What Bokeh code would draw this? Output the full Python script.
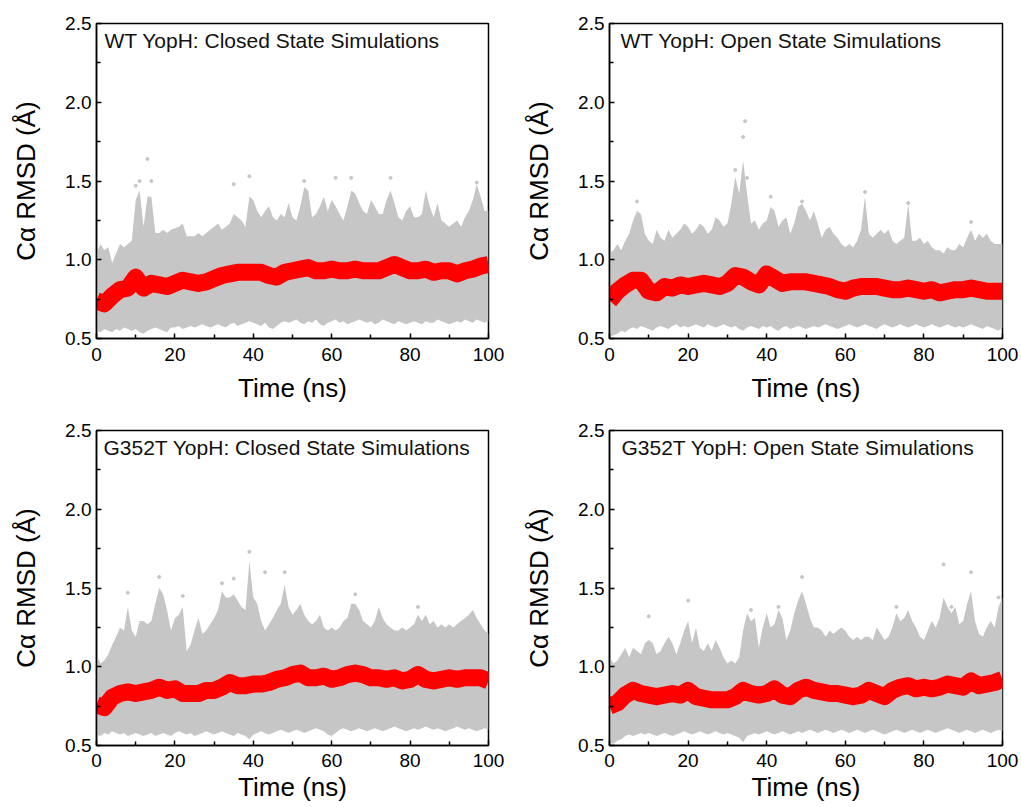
from bokeh.plotting import figure
from bokeh.layouts import column, row
from bokeh.models import FixedTicker, PrintfTickFormatter, Label, Range1d
from bokeh.embed import file_html
from bokeh.resources import INLINE

# ---------------- data ----------------
time_1ns = list(range(0, 101))
time_2ns = list(range(0, 101, 2))

panel_titles = [
    "WT YopH: Closed State Simulations",
    "WT YopH: Open State Simulations",
    "G352T YopH: Closed State Simulations",
    "G352T YopH: Open State Simulations",
]

x_ticks = [0, 20, 40, 60, 80, 100]
x_minor = [10, 30, 50, 70, 90]
y_ticks = [0.5, 1.0, 1.5, 2.0, 2.5]
y_minor = [0.75, 1.25, 1.75, 2.25]

# upper edge of the grey cloud of raw RMSD points (1 ns steps)
wt_closed_upper = [1.04,1.10,1.06,1.08,0.98,1.04,1.10,1.08,1.10,1.12,
    1.38,1.44,1.21,1.40,1.40,1.17,1.17,1.19,1.17,1.19,
    1.20,1.21,1.23,1.15,1.15,1.15,1.17,1.15,1.17,1.19,
    1.21,1.23,1.19,1.21,1.23,1.29,1.27,1.25,1.21,1.40,
    1.38,1.31,1.27,1.31,1.34,1.27,1.25,1.29,1.27,1.36,
    1.27,1.25,1.34,1.46,1.44,1.27,1.29,1.34,1.40,1.31,
    1.38,1.34,1.29,1.25,1.34,1.44,1.42,1.36,1.31,1.29,
    1.38,1.34,1.29,1.29,1.38,1.44,1.36,1.27,1.25,1.31,
    1.34,1.27,1.27,1.29,1.44,1.34,1.27,1.36,1.25,1.23,
    1.21,1.23,1.25,1.21,1.27,1.31,1.38,1.48,1.40,1.31,1.31]
wt_open_upper = [1.04,1.06,1.10,1.06,1.12,1.165,1.25,1.31,1.29,1.165,
    1.12,1.10,1.19,1.14,1.12,1.19,1.14,1.165,1.19,1.23,
    1.21,1.165,1.19,1.23,1.21,1.165,1.19,1.27,1.25,1.21,
    1.23,1.355,1.525,1.42,1.63,1.42,1.23,1.25,1.19,1.23,
    1.25,1.335,1.31,1.21,1.25,1.27,1.165,1.23,1.335,1.355,
    1.31,1.25,1.31,1.23,1.14,1.19,1.21,1.165,1.14,1.10,
    1.08,1.10,1.08,1.12,1.19,1.40,1.165,1.14,1.165,1.19,
    1.165,1.19,1.12,1.10,1.12,1.14,1.355,1.12,1.12,1.14,
    1.10,1.12,1.08,1.06,1.06,1.04,1.08,1.06,1.06,1.10,
    1.08,1.14,1.19,1.12,1.165,1.14,1.165,1.12,1.10,1.10,1.10]
mut_closed_upper = [1.08,1.02,1.04,1.08,1.14,1.19,1.25,1.23,1.38,1.23,
    1.19,1.29,1.29,1.27,1.29,1.40,1.50,1.46,1.36,1.23,
    1.31,1.33,1.38,1.10,1.14,1.23,1.31,1.21,1.23,1.27,
    1.31,1.36,1.48,1.44,1.44,1.46,1.42,1.38,1.36,1.67,
    1.44,1.40,1.29,1.23,1.27,1.31,1.36,1.40,1.52,1.38,
    1.33,1.36,1.40,1.33,1.29,1.27,1.29,1.33,1.25,1.23,
    1.25,1.23,1.25,1.29,1.31,1.40,1.40,1.36,1.29,1.27,
    1.25,1.29,1.38,1.31,1.27,1.25,1.23,1.23,1.25,1.23,
    1.25,1.27,1.33,1.29,1.33,1.27,1.29,1.25,1.27,1.25,
    1.27,1.25,1.27,1.29,1.31,1.33,1.36,1.31,1.27,1.23,1.21]
mut_open_upper = [1.06,1.02,1.04,1.08,1.12,1.06,1.12,1.10,1.08,1.15,
    1.17,1.15,1.08,1.10,1.15,1.19,1.15,1.08,1.15,1.23,
    1.29,1.15,1.25,1.12,1.10,1.15,1.10,1.17,1.12,1.06,
    1.02,1.04,1.02,1.06,1.23,1.34,1.29,1.31,1.12,1.25,
    1.34,1.25,1.27,1.36,1.31,1.17,1.23,1.34,1.42,1.48,
    1.40,1.31,1.25,1.25,1.23,1.19,1.23,1.21,1.23,1.25,
    1.23,1.19,1.17,1.19,1.17,1.19,1.19,1.17,1.25,1.21,
    1.17,1.19,1.25,1.34,1.29,1.31,1.36,1.29,1.25,1.19,
    1.17,1.23,1.29,1.25,1.31,1.44,1.38,1.34,1.38,1.27,
    1.29,1.40,1.48,1.29,1.21,1.19,1.25,1.29,1.25,1.38,1.44]

# lower edge of the grey cloud (1 ns steps)
wt_closed_lower = [0.55,0.54,0.56,0.55,0.54,0.56,0.55,0.57,0.56,0.55,
    0.56,0.54,0.53,0.55,0.56,0.57,0.56,0.55,0.54,0.57,
    0.57,0.58,0.56,0.57,0.58,0.57,0.58,0.59,0.58,0.57,
    0.58,0.59,0.58,0.57,0.59,0.60,0.58,0.59,0.60,0.61,
    0.60,0.59,0.58,0.60,0.57,0.56,0.58,0.60,0.61,0.60,
    0.61,0.62,0.60,0.59,0.61,0.60,0.62,0.59,0.58,0.60,
    0.61,0.62,0.60,0.61,0.59,0.60,0.61,0.62,0.61,0.60,
    0.61,0.59,0.60,0.62,0.61,0.60,0.59,0.61,0.60,0.59,
    0.60,0.61,0.60,0.59,0.61,0.60,0.60,0.62,0.61,0.60,
    0.59,0.60,0.61,0.60,0.62,0.61,0.60,0.62,0.61,0.60,0.61]
wt_open_lower = [0.51,0.52,0.53,0.55,0.54,0.56,0.57,0.56,0.58,0.57,
    0.56,0.55,0.57,0.58,0.57,0.56,0.58,0.59,0.57,0.58,
    0.57,0.58,0.59,0.58,0.57,0.59,0.58,0.57,0.58,0.59,
    0.58,0.57,0.58,0.56,0.55,0.57,0.58,0.57,0.56,0.58,
    0.57,0.58,0.56,0.55,0.57,0.58,0.56,0.57,0.58,0.57,
    0.56,0.57,0.58,0.57,0.58,0.59,0.58,0.57,0.56,0.57,
    0.58,0.59,0.58,0.57,0.58,0.59,0.58,0.57,0.56,0.58,
    0.59,0.58,0.57,0.58,0.59,0.58,0.57,0.58,0.59,0.58,
    0.57,0.58,0.59,0.58,0.57,0.58,0.59,0.58,0.57,0.58,
    0.57,0.58,0.59,0.58,0.57,0.56,0.58,0.57,0.56,0.55,0.57]
mut_closed_lower = [0.57,0.56,0.58,0.57,0.59,0.58,0.57,0.58,0.56,0.57,
    0.58,0.57,0.56,0.57,0.58,0.56,0.57,0.58,0.57,0.56,
    0.58,0.59,0.58,0.57,0.58,0.56,0.57,0.58,0.59,0.58,
    0.57,0.58,0.59,0.58,0.57,0.56,0.58,0.57,0.56,0.54,
    0.57,0.58,0.59,0.58,0.57,0.58,0.59,0.60,0.59,0.58,
    0.59,0.60,0.59,0.58,0.59,0.60,0.61,0.60,0.59,0.57,
    0.56,0.58,0.60,0.61,0.60,0.59,0.60,0.61,0.60,0.59,
    0.60,0.61,0.60,0.59,0.60,0.61,0.62,0.61,0.60,0.59,
    0.60,0.61,0.60,0.61,0.62,0.61,0.60,0.61,0.60,0.59,
    0.60,0.61,0.62,0.61,0.60,0.61,0.60,0.59,0.60,0.61,0.60]
mut_open_lower = [0.52,0.51,0.53,0.54,0.56,0.57,0.56,0.57,0.58,0.57,
    0.58,0.57,0.56,0.57,0.58,0.57,0.56,0.57,0.58,0.59,
    0.58,0.57,0.58,0.59,0.58,0.57,0.58,0.59,0.58,0.57,
    0.58,0.57,0.56,0.55,0.52,0.56,0.57,0.58,0.57,0.58,
    0.59,0.58,0.57,0.58,0.59,0.58,0.57,0.58,0.59,0.58,
    0.59,0.60,0.59,0.58,0.59,0.60,0.59,0.58,0.59,0.60,
    0.59,0.58,0.59,0.60,0.59,0.58,0.59,0.60,0.59,0.58,
    0.57,0.58,0.59,0.60,0.59,0.58,0.59,0.60,0.59,0.58,
    0.59,0.60,0.59,0.58,0.59,0.60,0.61,0.60,0.59,0.58,
    0.59,0.60,0.59,0.58,0.59,0.60,0.59,0.58,0.59,0.60,0.59]

# running average (red), 2 ns steps
wt_closed_avg = [0.74,0.72,0.77,0.81,0.82,0.89,0.82,0.85,0.84,0.83,0.85,0.87,0.86,0.85,
    0.86,0.88,0.90,0.91,0.92,0.92,0.92,0.92,0.90,0.89,0.92,0.93,0.94,0.95,0.93,0.93,
    0.94,0.93,0.93,0.94,0.93,0.93,0.93,0.95,0.97,0.95,0.93,0.93,0.94,0.92,0.93,0.93,
    0.91,0.93,0.94,0.96,0.97]
wt_open_avg = [0.74,0.80,0.84,0.87,0.87,0.80,0.79,0.83,0.82,0.84,0.83,0.84,0.85,0.84,
    0.83,0.85,0.90,0.89,0.86,0.84,0.91,0.88,0.85,0.86,0.86,0.86,0.85,0.84,0.83,0.81,
    0.80,0.82,0.83,0.83,0.83,0.82,0.81,0.81,0.82,0.81,0.80,0.81,0.79,0.80,0.81,0.81,
    0.82,0.81,0.80,0.80,0.80]
mut_closed_avg = [0.76,0.74,0.805,0.83,0.84,0.83,0.84,0.85,0.87,0.85,0.86,0.83,0.83,0.83,
    0.85,0.85,0.87,0.90,0.88,0.88,0.89,0.89,0.90,0.92,0.93,0.95,0.96,0.93,0.93,0.94,
    0.92,0.93,0.95,0.96,0.95,0.93,0.93,0.92,0.93,0.91,0.92,0.95,0.92,0.91,0.92,0.93,
    0.92,0.93,0.93,0.93,0.91]
mut_open_avg = [0.75,0.77,0.82,0.85,0.83,0.82,0.81,0.82,0.83,0.82,0.85,0.81,0.80,0.79,
    0.79,0.79,0.81,0.85,0.83,0.82,0.83,0.86,0.82,0.81,0.85,0.87,0.85,0.84,0.83,0.83,
    0.82,0.81,0.82,0.85,0.83,0.81,0.85,0.87,0.88,0.86,0.87,0.86,0.87,0.89,0.88,0.87,
    0.91,0.88,0.89,0.90,0.92]

# isolated spike tips of the raw data
wt_closed_tip_t = [10, 11, 13, 14, 35, 39, 53, 61, 65, 75, 97]
wt_closed_tip_v = [1.47, 1.50, 1.64, 1.50, 1.48, 1.53, 1.50, 1.52, 1.52, 1.52, 1.49]
wt_open_tip_t = [7, 32, 34, 34.5, 35, 41, 49, 65, 76, 92]
wt_open_tip_v = [1.37, 1.57, 1.78, 1.88, 1.52, 1.40, 1.37, 1.43, 1.36, 1.24]
mut_closed_tip_t = [8, 16, 22, 32, 35, 39, 43, 48, 66, 82]
mut_closed_tip_v = [1.47, 1.57, 1.45, 1.53, 1.56, 1.73, 1.60, 1.60, 1.46, 1.38]
mut_open_tip_t = [10, 20, 36, 43, 49, 73, 85, 87, 92, 99]
mut_open_tip_v = [1.32, 1.42, 1.36, 1.38, 1.57, 1.38, 1.65, 1.38, 1.60, 1.44]

uppers = [wt_closed_upper, wt_open_upper, mut_closed_upper, mut_open_upper]
lowers = [wt_closed_lower, wt_open_lower, mut_closed_lower, mut_open_lower]
avgs = [wt_closed_avg, wt_open_avg, mut_closed_avg, mut_open_avg]
tips_t = [wt_closed_tip_t, wt_open_tip_t, mut_closed_tip_t, mut_open_tip_t]
tips_v = [wt_closed_tip_v, wt_open_tip_v, mut_closed_tip_v, mut_open_tip_v]

x_label = "Time (ns)"
y_label = "C\u03b1 RMSD (\u00c5)"

# ---------------- styling ----------------
FONT = "Liberation Sans"
GREY = "#c6c6c6"
RED = "#ff0000"


def make_panel(i, width, height, bl, br, bt, bb, title_dx, bottom_row):
    p = figure(width=width, height=height, output_backend="svg", toolbar_location=None,
               x_range=Range1d(0, 100), y_range=Range1d(0.5, 2.5),
               min_border_left=bl, min_border_right=br, min_border_top=bt,
               min_border_bottom=bb)
    p.xgrid.visible = False
    p.ygrid.visible = False
    p.background_fill_color = "white"
    p.border_fill_color = "white"
    p.outline_line_color = "black"
    p.outline_line_width = 1.5
    p.outline_line_alpha = 1.0

    p.varea(x=time_1ns, y1=lowers[i], y2=uppers[i], fill_color=GREY, fill_alpha=1.0)
    p.scatter(x=tips_t[i], y=tips_v[i], size=3, color=GREY)
    p.line(x=time_2ns, y=avgs[i], line_color=RED, line_width=17, line_join="round")

    p.xaxis.ticker = FixedTicker(ticks=x_ticks, minor_ticks=x_minor)
    p.yaxis.ticker = FixedTicker(ticks=y_ticks, minor_ticks=y_minor)
    p.xaxis.formatter = PrintfTickFormatter(format="%d")
    p.yaxis.formatter = PrintfTickFormatter(format="%.1f")
    for ax in (p.xaxis[0], p.yaxis[0]):
        ax.axis_line_color = "black"
        ax.axis_line_width = 1.5
        ax.major_tick_in = 5
        ax.major_tick_out = 0
        ax.minor_tick_in = 4
        ax.minor_tick_out = 0
        ax.major_tick_line_width = 1.5
        ax.minor_tick_line_width = 1.5
        ax.major_tick_line_color = "black"
        ax.minor_tick_line_color = "black"
        ax.major_label_text_font = FONT
        ax.major_label_text_font_size = "19px"
        ax.major_label_text_color = "black"
        ax.axis_label_text_font = FONT
        ax.axis_label_text_font_size = "26px"
        ax.axis_label_text_font_style = "normal"
        ax.axis_label_text_color = "black"
    p.yaxis.major_label_standoff = 5
    p.yaxis.axis_label = y_label
    p.yaxis.axis_label_standoff = 21
    p.xaxis.axis_label = x_label
    if bottom_row:
        p.xaxis.major_label_standoff = 8
        p.xaxis.axis_label_standoff = 2
    else:
        p.xaxis.major_label_standoff = 9
        p.xaxis.axis_label_standoff = 9

    p.add_layout(Label(x=0, y=2.5, x_offset=title_dx, y_offset=-5, text=panel_titles[i],
                       text_baseline="top", text_align="left", text_font=FONT,
                       text_font_size="21px", text_color="#111111"))
    return p


p1 = make_panel(0, 510, 408, 96, 22, 23, 70, 8, False)
p2 = make_panel(1, 511, 408, 99, 19, 23, 70, 11, False)
p3 = make_panel(2, 510, 399, 96, 22, 22, 62, 7, True)
p4 = make_panel(3, 511, 399, 99, 19, 22, 62, 12, True)

layout = column(row(p1, p2), row(p3, p4))

open("out.html", "w").write(file_html(layout, INLINE))
